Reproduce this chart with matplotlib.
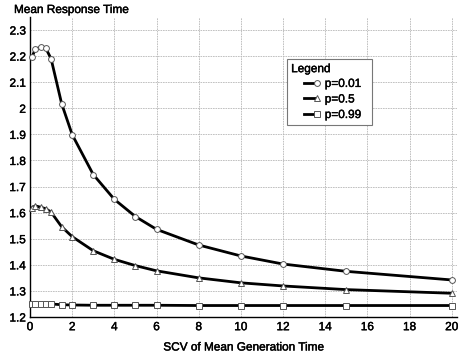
import matplotlib
matplotlib.use("Agg")
import matplotlib.pyplot as plt
from matplotlib.lines import Line2D
from matplotlib.legend_handler import HandlerLine2D
import matplotlib.patheffects as pe

x = [0.1, 0.25, 0.5, 0.75, 1.0, 1.5, 2, 3, 4, 5, 6, 8, 10, 12, 15, 20]
p001 = [2.197, 2.227, 2.234, 2.230, 2.190, 2.018, 1.899, 1.746, 1.651, 1.585, 1.536, 1.476, 1.434, 1.403, 1.375, 1.342]
p05 = [1.619, 1.626, 1.621, 1.615, 1.602, 1.546, 1.508, 1.454, 1.421, 1.397, 1.377, 1.350, 1.331, 1.319, 1.305, 1.291]
p099 = [1.250, 1.250, 1.250, 1.250, 1.250, 1.247, 1.246, 1.245, 1.245, 1.245, 1.245, 1.244, 1.244, 1.244, 1.244, 1.244]
labels = ["p=0.01", "p=0.5", "p=0.99"]
markers = ["o", "^", "s"]
xticks = [0, 2, 4, 6, 8, 10, 12, 14, 16, 18, 20]
yticks = [1.2, 1.3, 1.4, 1.5, 1.6, 1.7, 1.8, 1.9, 2.0, 2.1, 2.2, 2.3]
ytick_labels = ["1.2", "1.3", "1.4", "1.5", "1.6", "1.7", "1.8", "1.9", "2", "2.1", "2.2", "2.3"]

plt.rcParams['font.family'] = ['Liberation Sans', 'DejaVu Sans']
bold = [pe.withStroke(linewidth=0.3, foreground="black")]

fig = plt.figure(figsize=(4.6, 3.53), dpi=100)
ax = fig.add_axes([30/460, 1-317/353, 427/460, 300/353])

handles = []
for ys, lab, m in zip([p001, p05, p099], labels, markers):
    h, = ax.plot(x, ys, color="black", lw=2.0, marker=m, ms=4.2,
                 mfc="white", mec="#555555", mew=0.7, label=lab, clip_on=False, zorder=3)
    handles.append(h)

ax.set_xlim(0, 20.25)
ax.set_ylim(1.2, 2.35)
ax.set_xticks(xticks)
ax.set_yticks(yticks)
ax.set_yticklabels(ytick_labels)
ax.tick_params(length=0, labelsize=8.5, pad=3)
for t in ax.get_xticklabels() + ax.get_yticklabels():
    t.set_path_effects(bold)
ax.grid(True, color="#b8b8b8", lw=0.6, ls=(0, (2, 1)))
for s in ["top", "right"]:
    ax.spines[s].set_visible(False)
for s in ["left", "bottom"]:
    ax.spines[s].set_linewidth(1.0)

fig.text(14/460, 1-10/353, "Mean Response Time", ha="left", va="center", fontsize=8.5,
         path_effects=bold)
xl = ax.set_xlabel("SCV of Mean Generation Time", fontsize=8.5, labelpad=6)
xl.set_path_effects(bold)


class EndMarkerHandler(HandlerLine2D):
    def create_artists(self, legend, orig_handle, xdescent, ydescent, width, height, fontsize, trans):
        y = height / 2 - ydescent
        x1 = width - xdescent - 1.5
        line = Line2D([x1 - 9.5, x1 - 1.5], [y, y], color="black", lw=2.0)
        mk = Line2D([x1], [y], marker=orig_handle.get_marker(), ms=4.2, mfc="white",
                    mec="#555555", mew=0.7, ls="none")
        line.set_transform(trans)
        mk.set_transform(trans)
        return [line, mk]


leg = ax.legend(handles=handles, labels=[l + "  " for l in labels], title="Legend",
                loc="upper left", borderaxespad=0,
                bbox_to_anchor=(287/460, 1-59/353), bbox_transform=fig.transFigure,
                fontsize=8.5, title_fontsize=8.5, frameon=True, fancybox=False,
                edgecolor="#777777", framealpha=1, handlelength=2.4, handletextpad=0.45,
                borderpad=0.35, labelspacing=0.3, alignment="left",
                handler_map={Line2D: EndMarkerHandler()})
leg.get_frame().set_linewidth(0.8)
leg._legend_box.sep = 2
for t in leg.get_texts():
    t.set_path_effects(bold)
leg.get_title().set_path_effects(bold)

fig.savefig("out.png", dpi=100)
